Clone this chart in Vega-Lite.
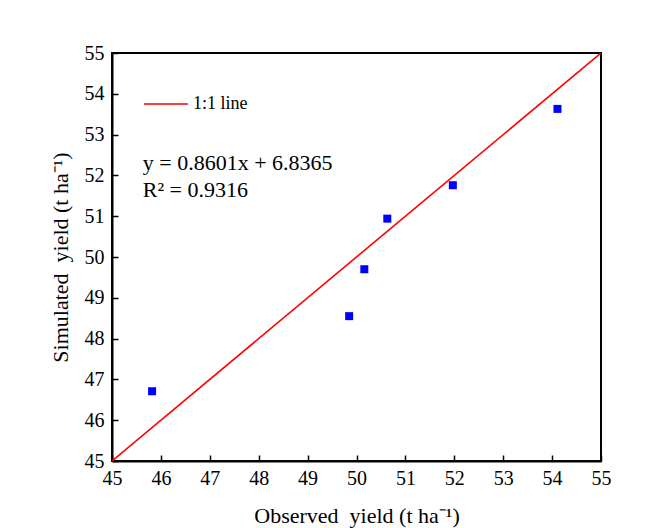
{
  "$schema": "https://vega.github.io/schema/vega-lite/v6.json",
  "width": 489,
  "height": 408,
  "autosize": {"type": "none"},
  "padding": {"left": 112, "top": 53, "right": 44, "bottom": 67},
  "background": "white",
  "config": {
    "font": "Times New Roman",
    "view": {"stroke": "black", "strokeWidth": 2},
    "style": {
      "guide-label": {"font": "Times New Roman", "fontSize": 20, "fill": "black"},
      "guide-title": {"font": "Times New Roman", "fontSize": 22, "fill": "black", "fontWeight": "normal"}
    },
    "axis": {
      "grid": false,
      "domainColor": "black",
      "domainWidth": 2,
      "tickColor": "black",
      "tickWidth": 1.5,
      "tickSize": -6,
      "labelColor": "black",
      "labelFontSize": 20,
      "labelFont": "Times New Roman",
      "labelFlush": false,
      "labelOverlap": false,
      "titleColor": "black",
      "titleFontSize": 22,
      "titleFontWeight": "normal",
      "titleFont": "Times New Roman"
    }
  },
  "datasets": {
    "points": [
      {"obs": 45.82, "sim": 46.71},
      {"obs": 49.85, "sim": 48.55},
      {"obs": 50.16, "sim": 49.70},
      {"obs": 50.63, "sim": 50.94},
      {"obs": 51.97, "sim": 51.76},
      {"obs": 54.11, "sim": 53.63}
    ],
    "oneone": [
      {"obs": 45, "sim": 45},
      {"obs": 55, "sim": 55}
    ]
  },
  "layer": [
    {
      "data": {"name": "oneone"},
      "mark": {"type": "line", "strokeWidth": 1.6, "clip": true},
      "encoding": {
        "x": {
          "field": "obs", "type": "quantitative",
          "scale": {"domain": [45, 55], "nice": false, "zero": false},
          "axis": {"values": [45,46,47,48,49,50,51,52,53,54,55], "title": "Observed\u00a0 yield (t ha\u207b\u00b9)", "labelFont": "Times New Roman", "labelFlush": false, "labelPadding": 13, "titlePadding": 17}
        },
        "y": {
          "field": "sim", "type": "quantitative",
          "scale": {"domain": [45, 55], "nice": false, "zero": false},
          "axis": {"values": [45,46,47,48,49,50,51,52,53,54,55], "title": "Simulated\u00a0 yield (t ha\u207b\u00b9)", "labelFont": "Times New Roman", "labelFlush": false, "labelPadding": 14, "titlePadding": 12}
        },
        "color": {
          "datum": "1:1 line",
          "scale": {"range": ["#ff0000"]},
          "legend": {
            "orient": "none",
            "legendX": 31,
            "legendY": 28,
            "title": null,
            "padding": 0,
            "symbolType": "stroke",
            "symbolSize": 1936,
            "symbolStrokeWidth": 1.6,
            "labelFontSize": 18,
            "labelFont": "Times New Roman",
            "labelColor": "black",
            "labelOffset": 4
          }
        }
      }
    },
    {
      "data": {"name": "points"},
      "mark": {"type": "square", "size": 64, "color": "#0000ff", "opacity": 1},
      "encoding": {
        "x": {"field": "obs", "type": "quantitative"},
        "y": {"field": "sim", "type": "quantitative"}
      }
    },
    {
      "data": {"values": [{}]},
      "mark": {
        "type": "text",
        "text": ["y = 0.8601x + 6.8365", "R\u00b2 = 0.9316"],
        "align": "left",
        "baseline": "alphabetic",
        "fontSize": 22,
        "lineHeight": 27,
        "font": "Times New Roman",
        "color": "black"
      },
      "encoding": {
        "x": {"datum": 45.63},
        "y": {"datum": 52.13}
      }
    }
  ]
}
